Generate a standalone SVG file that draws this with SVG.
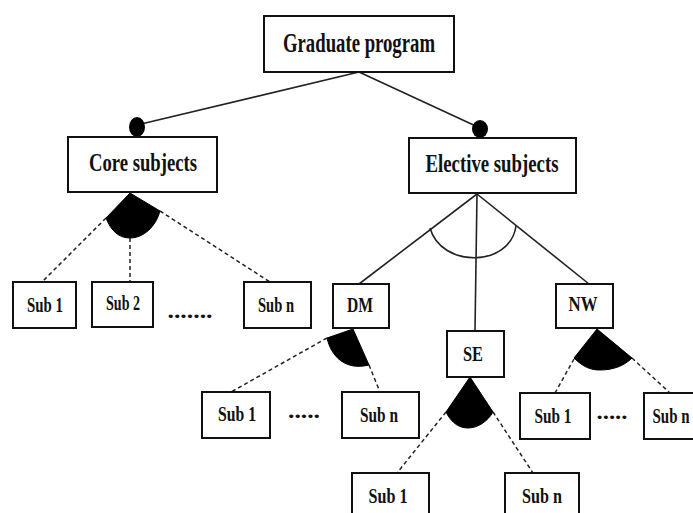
<svg xmlns="http://www.w3.org/2000/svg" width="693" height="513" viewBox="0 0 693 513">
<style>
.box{fill:#fff;stroke:#111;stroke-width:2}
.t{font-family:"Liberation Serif","Times New Roman",serif;font-weight:bold;fill:#111;text-anchor:middle}
.big{font-size:28px}
.mid{font-size:25px}
.sm{font-size:22px}
.solid{stroke:#222;stroke-width:1.6;fill:none}
.dash{stroke:#222;stroke-width:1.5;fill:none;stroke-dasharray:4 3}
.fan{fill:#000;stroke:#000;stroke-width:1}
.dots{font-family:"Liberation Serif",serif;font-weight:bold;font-size:20px;fill:#111;text-anchor:middle}
</style>
<rect width="693" height="513" fill="#fff"/>
<g id="connectors">
<line class="solid" x1="359" y1="72" x2="137" y2="125"/>
<line class="solid" x1="359" y1="72" x2="480" y2="128"/>
<ellipse cx="137" cy="127" rx="8" ry="10" fill="#000"/>
<ellipse cx="480" cy="129" rx="8" ry="9" fill="#000"/>
<path class="fan" d="M130,193 L106,218 C111,231 119,238 130,238 C144,238 156,226 160,211 Z"/>
<line class="dash" x1="106" y1="218" x2="42" y2="282"/>
<line class="dash" x1="130" y1="238" x2="130" y2="282"/>
<line class="dash" x1="160" y1="211" x2="270" y2="282"/>
<line class="solid" x1="477" y1="194" x2="359" y2="284"/>
<line class="solid" x1="477" y1="194" x2="475" y2="331"/>
<line class="solid" x1="477" y1="194" x2="589" y2="284"/>
<path class="solid" d="M430,228 C441,268 510,268 516,226"/>
<path class="fan" d="M353,329 L327,338 C331,356 345,371 369,365 Z"/>
<line class="dash" x1="327" y1="338" x2="231" y2="392"/>
<line class="dash" x1="369" y1="365" x2="380" y2="392"/>
<path class="fan" d="M470,377 L446,412 C452,424 460,428 468,428 C478,428 488,421 493,412 Z"/>
<line class="dash" x1="446" y1="412" x2="397" y2="473"/>
<line class="dash" x1="493" y1="412" x2="533" y2="473"/>
<path class="fan" d="M597,329 L574,358 C584,368 592,370 600,370 C613,370 624,366 632,358 Z"/>
<line class="dash" x1="574" y1="359" x2="555" y2="393"/>
<line class="dash" x1="632" y1="358" x2="670" y2="393"/>
</g>
<g id="graduate"><rect class="box" x="264" y="16" width="190" height="56"/><text class="t big" x="359" y="52" textLength="152" lengthAdjust="spacingAndGlyphs">Graduate program</text></g>
<g id="core"><rect class="box" x="68" y="137" width="149" height="55"/><text class="t mid" x="143" y="171" textLength="108" lengthAdjust="spacingAndGlyphs">Core subjects</text></g>
<g id="elective"><rect class="box" x="409" y="138" width="167" height="55"/><text class="t mid" x="492" y="172" textLength="133" lengthAdjust="spacingAndGlyphs">Elective subjects</text></g>
<g id="core-sub1"><rect class="box" x="13" y="282" width="63" height="46"/><text class="t sm" x="45" y="312" textLength="36" lengthAdjust="spacingAndGlyphs">Sub 1</text></g>
<g id="core-sub2"><rect class="box" x="92" y="282" width="61" height="45"/><text class="t sm" x="123" y="310" textLength="34" lengthAdjust="spacingAndGlyphs">Sub 2</text></g>
<text class="dots" x="190" y="318" textLength="45" lengthAdjust="spacingAndGlyphs">.......</text>
<g id="core-subn"><rect class="box" x="244" y="282" width="67" height="46"/><text class="t sm" x="276" y="312" textLength="36" lengthAdjust="spacingAndGlyphs">Sub n</text></g>
<g id="dm"><rect class="box" x="333" y="284" width="56" height="44"/><text class="t sm" x="360" y="312" textLength="26" lengthAdjust="spacingAndGlyphs">DM</text></g>
<g id="nw"><rect class="box" x="556" y="284" width="57" height="44"/><text class="t sm" x="583" y="311" textLength="29" lengthAdjust="spacingAndGlyphs">NW</text></g>
<g id="se"><rect class="box" x="447" y="331" width="57" height="46"/><text class="t sm" x="473" y="361" textLength="20" lengthAdjust="spacingAndGlyphs">SE</text></g>
<g id="dm-sub1"><rect class="box" x="202" y="392" width="68" height="46"/><text class="t sm" x="237" y="421" textLength="38" lengthAdjust="spacingAndGlyphs">Sub 1</text></g>
<text class="dots" x="304" y="418" textLength="32" lengthAdjust="spacingAndGlyphs">.....</text>
<g id="dm-subn"><rect class="box" x="342" y="392" width="77" height="46"/><text class="t sm" x="379" y="422" textLength="38" lengthAdjust="spacingAndGlyphs">Sub n</text></g>
<g id="nw-sub1"><rect class="box" x="520" y="393" width="70" height="46"/><text class="t sm" x="553" y="423" textLength="37" lengthAdjust="spacingAndGlyphs">Sub 1</text></g>
<text class="dots" x="612" y="419" textLength="31" lengthAdjust="spacingAndGlyphs">.....</text>
<g id="nw-subn"><rect class="box" x="644" y="393" width="56" height="46"/><text class="t sm" x="671" y="423" textLength="37" lengthAdjust="spacingAndGlyphs">Sub n</text></g>
<g id="se-sub1"><rect class="box" x="352" y="473" width="77" height="50"/><text class="t sm" x="388" y="503" textLength="39" lengthAdjust="spacingAndGlyphs">Sub 1</text></g>
<g id="se-subn"><rect class="box" x="505" y="473" width="74" height="50"/><text class="t sm" x="542" y="503" textLength="40" lengthAdjust="spacingAndGlyphs">Sub n</text></g>
<text class="dots" x="465" y="517" textLength="40" lengthAdjust="spacingAndGlyphs" fill-opacity="0.5">......</text>
</svg>
